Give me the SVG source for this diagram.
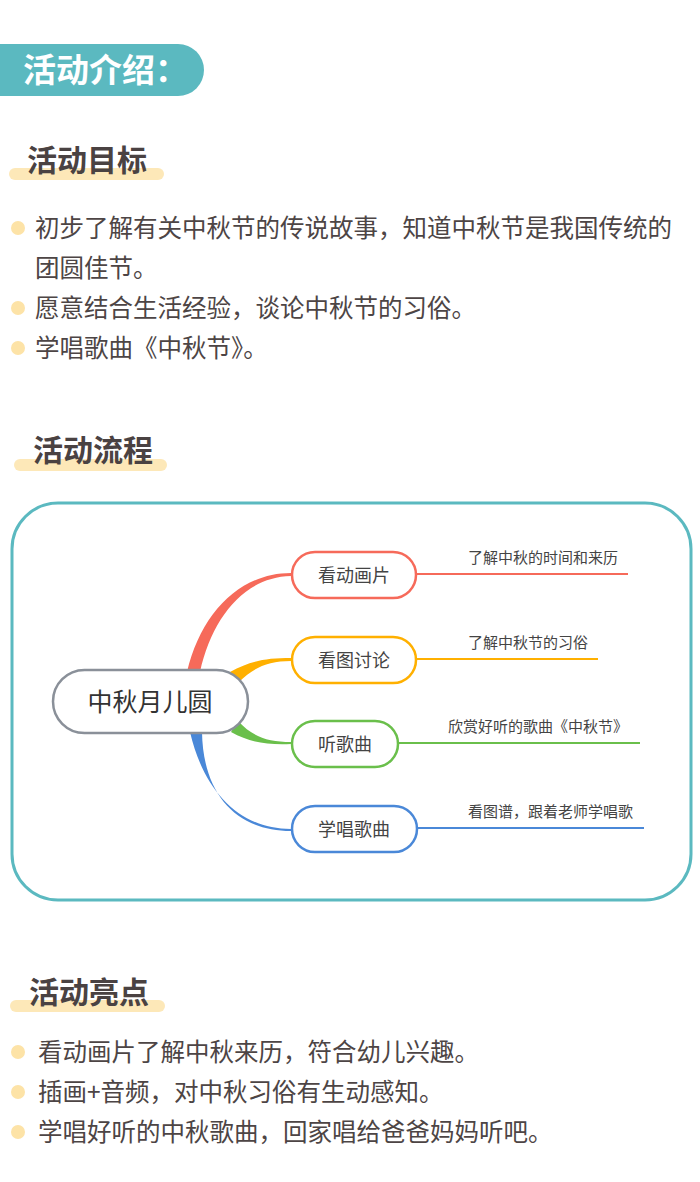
<svg xmlns="http://www.w3.org/2000/svg" width="700" height="1182" viewBox="0 0 700 1182">
<style>
.h{font-family:"Noto Sans CJK SC","Noto Sans",sans-serif;font-weight:bold;font-size:30px;fill:#4a4242}
.bar{fill:#fde8b8}
.b{font-family:"Noto Sans CJK SC","Noto Sans",sans-serif;font-size:24.5px;fill:#4d4545}
.dot{fill:#fde3a7}
.n{font-family:"Noto Sans CJK SC","Noto Sans",sans-serif;font-size:18px;fill:#444;text-anchor:middle}
.l{font-family:"Noto Sans CJK SC","Noto Sans",sans-serif;font-size:15px;fill:#444}
.node{fill:#fff;stroke-width:2.5}
</style>
<rect x="0" y="0" width="700" height="1182" fill="#fff"/>
<g id="title">
<path d="M0,44 H178 A26,26 0 0 1 178,96 H0 Z" fill="#5bb9c0"/>
<text x="23" y="82" font-family="'Noto Sans CJK SC',sans-serif" font-weight="bold" font-size="33" fill="#fff">活动介绍：</text>
</g>
<g id="sec1">
<rect class="bar" x="9" y="168" width="155" height="12" rx="6"/>
<text class="h" x="27" y="171">活动目标</text>
<circle class="dot" cx="18" cy="228" r="7"/>
<text class="b" x="35" y="237">初步了解有关中秋节的传说故事，知道中秋节是我国传统的</text>
<text class="b" x="35" y="277">团圆佳节。</text>
<circle class="dot" cx="18" cy="308" r="7"/>
<text class="b" x="35" y="317">愿意结合生活经验，谈论中秋节的习俗。</text>
<circle class="dot" cx="18" cy="348" r="7"/>
<text class="b" x="35" y="357">学唱歌曲《中秋节》。</text>
</g>
<g id="sec2">
<rect class="bar" x="14" y="459" width="153" height="12" rx="6"/>
<text class="h" x="33" y="461">活动流程</text>
</g>
<g id="frame">
<rect x="12" y="503" width="679" height="397" rx="46" fill="#fff" stroke="#5bb9c0" stroke-width="3"/>
</g>
<g id="connectors">
<path d="M187,672 C201,613 240,573 291,573 L291,576 C244,577 212,618 200,672 Z" fill="#f66a5a"/>
<path d="M230,672 C250,661 265,658 291,658 L291,661 C268,661 253,668 239,682 Z" fill="#ffb000"/>
<path d="M238,721 C253,737 268,742 291,742 L291,744 C266,745 249,742 231,732 Z" fill="#6abf4b"/>
<path d="M190,732 C204,792 240,829 291,829 L291,831 C237,831 203,795 202,732 Z" fill="#4a88d8"/>
<line x1="416" y1="574" x2="628" y2="574" stroke="#f66a5a" stroke-width="2"/>
<line x1="416" y1="659" x2="598" y2="659" stroke="#ffb000" stroke-width="2"/>
<line x1="398" y1="743" x2="640" y2="743" stroke="#6abf4b" stroke-width="2"/>
<line x1="417" y1="828" x2="644" y2="828" stroke="#4a88d8" stroke-width="2"/>
</g>
<g id="center">
<rect class="node" x="53" y="670" width="195" height="63" rx="31.5" stroke="#8a9099"/>
<text x="150" y="711" font-family="'Noto Sans CJK SC',sans-serif" font-size="25" fill="#333" text-anchor="middle">中秋月儿圆</text>
</g>
<g id="n1">
<rect class="node" x="292" y="552" width="124" height="46" rx="23" stroke="#f66a5a"/>
<text class="n" x="354" y="582">看动画片</text>
<text class="l" x="468" y="563">了解中秋的时间和来历</text>
</g>
<g id="n2">
<rect class="node" x="292" y="637" width="124" height="46" rx="23" stroke="#ffb000"/>
<text class="n" x="354" y="667">看图讨论</text>
<text class="l" x="468" y="648">了解中秋节的习俗</text>
</g>
<g id="n3">
<rect class="node" x="292" y="721" width="106" height="46" rx="23" stroke="#6abf4b"/>
<text class="n" x="345" y="751">听歌曲</text>
<text class="l" x="448" y="732">欣赏好听的歌曲《中秋节》</text>
</g>
<g id="n4">
<rect class="node" x="292" y="806" width="125" height="46" rx="23" stroke="#4a88d8"/>
<text class="n" x="354" y="836">学唱歌曲</text>
<text class="l" x="468" y="817">看图谱，跟着老师学唱歌</text>
</g>
<g id="sec3">
<rect class="bar" x="10" y="1000" width="155" height="12" rx="6"/>
<text class="h" x="29" y="1003">活动亮点</text>
<circle class="dot" cx="18" cy="1052" r="7"/>
<text class="b" x="38" y="1061">看动画片了解中秋来历，符合幼儿兴趣。</text>
<circle class="dot" cx="18" cy="1092" r="7"/>
<text class="b" x="38" y="1101">插画+音频，对中秋习俗有生动感知。</text>
<circle class="dot" cx="18" cy="1132" r="7"/>
<text class="b" x="38" y="1141">学唱好听的中秋歌曲，回家唱给爸爸妈妈听吧。</text>
</g>
</svg>
